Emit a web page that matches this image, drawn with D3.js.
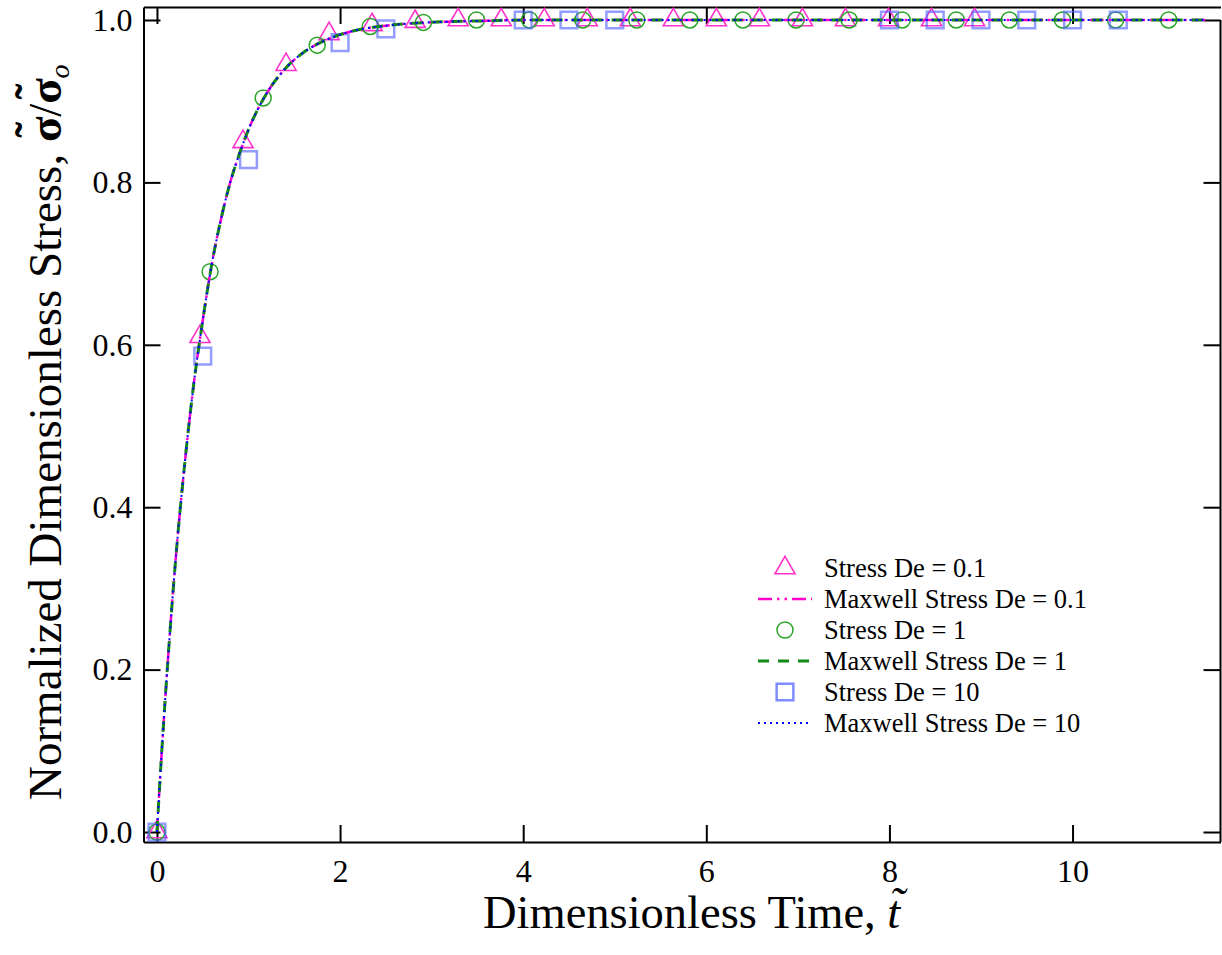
<!DOCTYPE html>
<html>
<head>
<meta charset="utf-8">
<script src="https://cdn.jsdelivr.net/npm/d3@7"></script>
<style>
  body { margin: 0; background: #fff; }
  svg { display: block; font-family: 'Liberation Serif', 'Times New Roman', serif; }
</style>
</head>
<body>
<svg class="stress-chart"></svg>
<script>
// Maxwell stress curve (the three De curves lie on top of each other)
const curveTime = [0, 0.05, 0.1, 0.2, 0.3, 0.4, 0.5, 0.6, 0.7, 0.8, 0.9, 1.0, 1.2, 1.4, 1.6, 1.8, 2.0, 2.2, 2.5, 2.8, 3.2, 3.6, 4.0, 5, 6, 7, 8, 9, 10, 11, 11.45];
const curveStress = [0, 0.095, 0.18, 0.33, 0.45, 0.55, 0.63, 0.70, 0.755, 0.80, 0.835, 0.865, 0.91, 0.94, 0.96, 0.973, 0.982, 0.988, 0.993, 0.996, 0.998, 0.999, 1, 1, 1, 1, 1, 1, 1, 1, 1];

// Stress De = 0.1 (triangles)
const triTime = [0, 0.47, 0.94, 1.41, 1.88, 2.35, 2.82, 3.29, 3.76, 4.23, 4.70, 5.17, 5.64, 6.11, 6.58, 7.05, 7.52, 7.99, 8.46, 8.93];
const triStress = [0, 0.61, 0.85, 0.945, 0.983, 0.994, 0.998, 1, 1, 1, 1, 1, 1, 1, 1, 1, 1, 1, 1, 1];

// Stress De = 1 (circles)
const circTime = [0, 0.58, 1.16, 1.75, 2.33, 2.91, 3.49, 4.07, 4.65, 5.24, 5.82, 6.40, 6.98, 7.56, 8.14, 8.73, 9.31, 9.89, 10.47, 11.05];
const circStress = [0, 0.69, 0.904, 0.969, 0.992, 0.997, 1, 1, 1, 1, 1, 1, 1, 1, 1, 1, 1, 1, 1, 1];

// Stress De = 10 (squares)
const sqTime = [0, 0.5, 1.0, 2.0, 2.5, 4.0, 4.5, 5.0, 8.0, 8.5, 9.0, 9.5, 10.0, 10.5];
const sqStress = [0, 0.586, 0.828, 0.972, 0.989, 1, 1, 1, 1, 1, 1, 1, 1, 1];

const xTicks = [0, 2, 4, 6, 8, 10];
const yTicks = [0, 0.2, 0.4, 0.6, 0.8, 1.0];
const legendLabels = ['Stress De = 0.1', 'Maxwell Stress De = 0.1', 'Stress De = 1', 'Maxwell Stress De = 1', 'Stress De = 10', 'Maxwell Stress De = 10'];

const width = 1222, height = 955;
const plotLeft = 143.5, plotRight = 1220.5, plotTop = 7, plotBottom = 842;
const pink = '#ff33cc', green = '#2aa52a', blue = '#4a5cff';

let svg = d3.select('svg.stress-chart')
  .attr('width', width)
  .attr('height', height);

let x = d3.scaleLinear().domain([-0.147, 11.616]).range([plotLeft, plotRight]);
let y = d3.scaleLinear().domain([-0.0123, 1.016]).range([plotBottom, plotTop]);

const zip = (ts, vs) => ts.map((t, i) => ({ t: t, v: vs[i] }));

//axes
function styleAxis(g) {
  g.attr('font-family', null).attr('font-size', 32);
  g.selectAll('path, line').attr('stroke', '#000').attr('stroke-width', 2);
  g.selectAll('text').attr('fill', '#000');
}

svg.append('g')
  .attr('transform', `translate(0,${plotBottom})`)
  .call(d3.axisBottom(x).tickValues(xTicks).tickSize(-17).tickSizeOuter(0).tickPadding(17).tickFormat(d3.format('d')))
  .call(styleAxis);

svg.append('g')
  .attr('transform', `translate(${plotLeft},0)`)
  .call(d3.axisLeft(y).tickValues(yTicks).tickSize(-17).tickSizeOuter(0).tickPadding(11).tickFormat(d3.format('.1f')))
  .call(styleAxis);

svg.append('g')
  .attr('transform', `translate(0,${plotTop})`)
  .call(d3.axisTop(x).tickValues(xTicks).tickSize(-17).tickSizeOuter(0).tickFormat(''))
  .call(styleAxis);

let rightAxis = svg.append('g')
  .attr('transform', `translate(${plotRight},0)`)
  .call(d3.axisRight(y).tickValues(yTicks).tickSize(-17).tickSizeOuter(0).tickFormat(''))
  .call(styleAxis);
rightAxis.select('.domain').remove();
rightAxis.append('line')
  .attr('y1', y(1)).attr('y2', plotBottom)
  .attr('stroke', '#000').attr('stroke-width', 2);

//markers
const symTri = d3.symbol().type(d3.symbolTriangle).size(175);
const symSq = d3.symbol().type(d3.symbolSquare).size(280);

let marks = svg.append('g').attr('class', 'marks').attr('fill', 'none');

marks.selectAll('path.tri')
  .data(zip(triTime, triStress))
  .enter().append('path')
  .attr('class', 'tri')
  .attr('d', symTri)
  .attr('transform', d => `translate(${x(d.t)},${y(d.v)})`)
  .attr('stroke', pink)
  .attr('stroke-width', 1.6);

marks.selectAll('circle')
  .data(zip(circTime, circStress))
  .enter().append('circle')
  .attr('cx', d => x(d.t))
  .attr('cy', d => y(d.v))
  .attr('r', 8)
  .attr('stroke', green)
  .attr('stroke-width', 1.5);

marks.selectAll('path.sq')
  .data(zip(sqTime, sqStress))
  .enter().append('path')
  .attr('class', 'sq')
  .attr('d', symSq)
  .attr('transform', d => `translate(${x(d.t)},${y(d.v)})`)
  .attr('stroke', blue)
  .attr('stroke-opacity', 0.6)
  .attr('stroke-width', 2.5);

//maxwell curves
let line = d3.line()
  .x(d => x(d.t))
  .y(d => y(d.v))
  .curve(d3.curveMonotoneX);

const curveStyles = [
  { color: '#ff00cc', width: 2.5, dash: '14,5,2.5,5,2.5,5' },
  { color: '#138a13', width: 3, dash: '11,9' },
  { color: '#0000ff', width: 2, dash: '2,4' }
];

svg.append('g')
  .attr('class', 'curves')
  .selectAll('path')
  .data(curveStyles)
  .enter().append('path')
  .attr('fill', 'none')
  .attr('stroke', d => d.color)
  .attr('stroke-width', d => d.width)
  .attr('stroke-dasharray', d => d.dash)
  .attr('d', () => line(zip(curveTime, curveStress)));

//legend
let legend = svg.append('g').attr('class', 'legend');
const rowY = i => 568 + i * 31;

legend.append('path')
  .attr('d', symTri)
  .attr('transform', `translate(785,${rowY(0)})`)
  .attr('fill', 'none').attr('stroke', pink).attr('stroke-width', 1.6);
legend.append('circle')
  .attr('cx', 785).attr('cy', rowY(2)).attr('r', 8)
  .attr('fill', 'none').attr('stroke', green).attr('stroke-width', 1.5);
legend.append('path')
  .attr('d', symSq)
  .attr('transform', `translate(785,${rowY(4)})`)
  .attr('fill', 'none').attr('stroke', blue).attr('stroke-opacity', 0.7).attr('stroke-width', 2.5);

curveStyles.forEach((s, i) => {
  legend.append('line')
    .attr('x1', 758).attr('x2', 812)
    .attr('y1', rowY(i * 2 + 1)).attr('y2', rowY(i * 2 + 1))
    .attr('stroke', s.color)
    .attr('stroke-width', s.width)
    .attr('stroke-dasharray', s.dash);
});

legend.selectAll('text')
  .data(legendLabels)
  .enter().append('text')
  .attr('x', 824)
  .attr('y', (d, i) => rowY(i))
  .attr('dy', '0.35em')
  .attr('font-size', 26.5)
  .text(d => d);

//axis titles (tildes placed as separate glyphs over the letters)
let xTitle = svg.append('text')
  .attr('x', 483)
  .attr('y', 928)
  .attr('font-size', 46.5);
xTitle.append('tspan').text('Dimensionless Time, ');
xTitle.append('tspan').attr('font-style', 'italic').text('t');
xTitle.append('tspan').attr('font-style', 'italic').attr('dx', -11).attr('dy', -8).text('\u02dc');

let yTitle = svg.append('text')
  .attr('transform', 'translate(61,800) rotate(-90)')
  .attr('font-size', 47);
yTitle.append('tspan').text('Normalized Dimensionless Stress, ');
yTitle.append('tspan').attr('font-weight', 'bold').text('\u03c3');
yTitle.append('tspan').attr('font-weight', 'bold').attr('dx', -21).attr('dy', -13).text('\u02dc');
yTitle.append('tspan').attr('dx', 5).attr('dy', 13).text('/');
yTitle.append('tspan').attr('font-weight', 'bold').text('\u03c3');
yTitle.append('tspan').attr('font-weight', 'bold').attr('dx', -21).attr('dy', -13).text('\u02dc');
yTitle.append('tspan').attr('font-style', 'italic').attr('font-size', 28).attr('dx', 5).attr('dy', 21).text('o');
</script>
</body>
</html>
